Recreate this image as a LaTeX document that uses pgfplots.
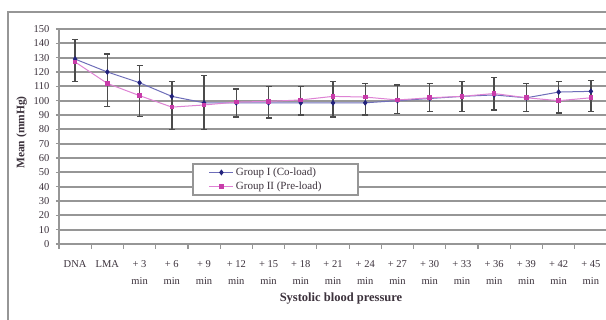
\documentclass[border=0pt]{standalone}
\usepackage{fontspec}
\setmainfont{Liberation Serif}
\usepackage{pgfplots}
\pgfplotsset{compat=1.18}
\usepackage{pgfplotstable}
\definecolor{gridc}{RGB}{150,150,150}
\definecolor{lineA}{RGB}{110,110,185}
\definecolor{markA}{RGB}{35,35,125}
\definecolor{lineB}{RGB}{222,130,212}
\definecolor{markB}{RGB}{200,60,170}
\definecolor{errc}{RGB}{75,75,75}
\definecolor{txt}{RGB}{60,50,60}
\pgfplotstableread{
x  g1    g2    ep    em
0  129   127   13.5  15.5
1  120   112   12.5  24
2  112.5 103.5 12    23.5
3  103   95.5  10.5  23
4  98.5  97    19    18.5
5  98.5  99    9.5   10
6  98.5  99.5  11.5  10.5
7  98.5  100.5 11.5  8.5
8  98.5  103   15    10
9  98.5  102.5 13.5  8.5
10 100   100.5 11    9
11 101.5 102   10.5  9
12 103   103   10.5  10.5
13 104   105   12    10.5
14 102   102   10    9.5
15 106   100   7.5   14.5
16 106.5 102   7.5   14
}\data
\begin{document}
\begin{tikzpicture}[x=1pt,y=1pt]
\useasboundingbox (0,0) rectangle (606,320);
\clip (0,0) rectangle (606,320);
\fill[white] (0,0) rectangle (606,320);
\draw[gridc, line width=2pt] (8,-10) -- (8,308) -- (620,308);
\begin{axis}[
  at={(59pt,76pt)}, anchor=south west,
  scale only axis, width=548pt, height=215pt,
  xmin=-0.5, xmax=16.5, ymin=0, ymax=150,
  ytick={0,10,...,150},
  ymajorgrids, grid style={gridc, line width=1.8pt},
  axis lines=left, axis line style={-, gridc, line width=1.4pt},
  xtick={0,...,16},
  xticklabels={DNA, LMA, {+ 3\\min}, {+ 6\\min}, {+ 9\\min}, {+ 12\\min}, {+ 15\\min}, {+ 18\\min}, {+ 21\\min}, {+ 24\\min}, {+ 27\\min}, {+ 30\\min}, {+ 33\\min}, {+ 36\\min}, {+ 39\\min}, {+ 42\\min}, {+ 45\\min}},
  minor xtick={-0.5,0.5,...,16.5},
  major x tick style={draw=none},
  minor x tick style={gridc, line width=1.2pt},
  minor tick length=5pt,
  major tick length=3pt,
  y tick style={gridc, line width=1.2pt},
  tick align=outside,
  xticklabel style={align=center, font=\fontsize{10.5}{17}\selectfont, text=txt, anchor=north, yshift=-10pt},
  yticklabel style={font=\fontsize{10.5}{12}\selectfont, text=txt, xshift=-3pt},
  /pgf/number format/assume math mode=true,
  xlabel={Systolic blood pressure},
  ylabel={Mean (mmHg)},
  xlabel style={font=\fontsize{12.5}{14}\selectfont\bfseries, text=txt, yshift=-1pt, xshift=8pt},
  ylabel style={font=\fontsize{11.5}{13}\selectfont\bfseries, text=txt, xshift=4pt},
  legend style={at={(rel axis cs:0.2427,0.3767)}, anchor=north west,
    draw=gridc, line width=1.8pt, font=\fontsize{11}{12}\selectfont, text=txt,
    inner xsep=16pt, inner ysep=2pt, row sep=1pt},
  legend cell align=left,
  legend image code/.code={\draw[mark repeat=2,mark phase=2,#1] plot coordinates {(0pt,0pt) (12pt,0pt) (24pt,0pt)};},
  clip=false,
]
\addplot[lineA, line width=1pt, mark=diamond*, mark size=2.2pt, mark options={markA, fill=markA, solid},
  error bars/.cd, y dir=both, y explicit,
  error bar style={errc, line width=1.4pt},
  error mark options={errc, line width=1.4pt, mark size=3pt, rotate=90}]
  table[x=x, y=g1, y error plus=ep, y error minus=em]{\data};
\addlegendentry{\makebox[104pt][l]{Group I (Co-load)}}
\addplot[lineB, line width=1pt, mark=square*, mark size=1.8pt, mark options={markB, fill=markB, solid}]
  table[x=x, y=g2]{\data};
\addlegendentry{\makebox[104pt][l]{Group II (Pre-load)}}
\end{axis}
\end{tikzpicture}
\end{document}
